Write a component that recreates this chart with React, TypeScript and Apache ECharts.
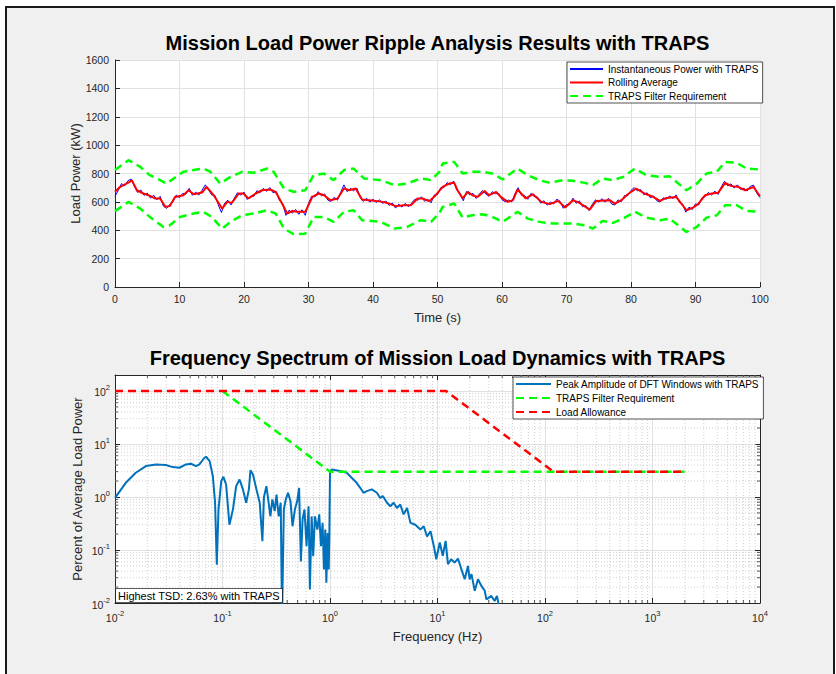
import React, { useEffect, useRef } from "react";
import * as echarts from "echarts";

const FONT = "'Liberation Sans', Arial, Helvetica, sans-serif";

const TITLE_TOP = "Mission Load Power Ripple Analysis Results with TRAPS";
const TITLE_BOTTOM = "Frequency Spectrum of Mission Load Dynamics with TRAPS";
const ANNOTATION = "Highest TSD: 2.63% with TRAPS";

// ---------- Top chart: time-domain power ----------
const timeTicks = [0, 10, 20, 30, 40, 50, 60, 70, 80, 90, 100];
const powerTicks = [0, 200, 400, 600, 800, 1000, 1200, 1400, 1600];

const sampleStep = 0.5; // s between instantaneous samples
const instPower = [
  640, 679, 729, 713, 749, 761, 709, 667, 684, 646,
  662, 626, 647, 615, 639, 570, 554, 583, 601, 648,
  629, 660, 655, 695, 646, 669, 648, 682, 720, 685,
  649, 645, 581, 525, 591, 612, 578, 626, 665, 647,
  669, 617, 640, 638, 679, 665, 696, 674, 701, 664,
  673, 609, 587, 505, 542, 520, 547, 512, 544, 505,
  590, 640, 635, 672, 643, 656, 612, 603, 633, 612,
  669, 720, 672, 696, 678, 698, 633, 603, 626, 598,
  619, 595, 615, 589, 606, 575, 592, 556, 584, 563,
  590, 565, 592, 619, 612, 636, 604, 619, 593, 649,
  652, 700, 701, 736, 720, 747, 682, 661, 608, 673,
  649, 660, 624, 656, 680, 655, 639, 672, 657, 660,
  615, 601, 613, 599, 656, 700, 648, 646, 618, 660,
  636, 635, 590, 608, 577, 598, 585, 619, 604, 555,
  581, 580, 626, 590, 607, 566, 574, 539, 582, 615,
  598, 623, 598, 625, 585, 578, 614, 602, 645, 644,
  681, 701, 677, 687, 650, 664, 629, 642, 608, 599,
  629, 618, 642, 623, 649, 596, 584, 527, 563, 546,
  586, 578, 629, 637, 667, 647, 676, 652, 706, 746,
  713, 727, 697, 720, 687, 696, 676, 709, 718, 662,
  630,
];

const avgTime = [
  0, 0.8, 2.3, 2.6, 3.4, 4.4, 5.2, 6.2, 7.0, 7.8,
  8.5, 9.3, 10.6, 11.4, 12.2, 13.5, 14.2, 15.3, 16.6, 17.4,
  18.1, 19.2, 19.9, 20.7, 21.8, 22.8, 24.1, 24.9, 25.9, 26.7,
  27.5, 28.2, 29.5, 30.6, 31.6, 32.4, 33.4, 34.5, 35.5, 36.3,
  37.3, 38.3, 39.4, 40.4, 41.5, 42.5, 43.5, 44.8, 45.9, 46.9,
  47.7, 48.7, 49.7, 50.8, 51.8, 52.6, 53.1, 53.9, 54.7, 55.4,
  56.2, 57.3, 58.0, 59.1, 59.8, 60.9, 61.7, 62.4, 63.7, 64.8,
  66.1, 67.4, 68.7, 69.8, 71.0, 72.0, 73.6, 74.6, 76.7, 77.5,
  78.5, 79.5, 80.8, 82.1, 83.2, 84.5, 85.5, 87.0, 88.6, 89.6,
  90.4, 91.5, 92.5, 93.5, 94.6, 95.6, 96.6, 97.7, 99.0, 99.7,
  100,
];
const avgPower = [
  671, 706, 741, 753, 682, 659, 647, 624, 624, 565,
  570, 635, 647, 682, 654, 666, 706, 647, 553, 600,
  593, 659, 659, 624, 659, 682, 687, 671, 588, 518,
  536, 530, 530, 635, 659, 647, 612, 624, 694, 682,
  694, 616, 612, 607, 600, 588, 570, 577, 577, 624,
  624, 605, 645, 706, 729, 734, 682, 624, 671, 647,
  635, 677, 647, 671, 635, 600, 612, 687, 624, 654,
  600, 584, 607, 560, 612, 593, 546, 607, 612, 588,
  612, 654, 694, 659, 640, 607, 628, 635, 541, 560,
  584, 647, 659, 664, 734, 711, 706, 682, 706, 659,
  640,
];

const upperTime = [
  0, 2.1, 3.9, 5.4, 7.0, 8.0, 9.1, 10.6, 12.2, 13.7,
  14.8, 16.3, 17.9, 19.7, 21.5, 23.6, 24.6, 26.2, 27.7, 29.5,
  30.8, 32.4, 33.9, 35.5, 37.0, 38.6, 41.2, 43.3, 45.3, 47.4,
  49.0, 50.3, 50.8, 52.6, 53.9, 55.4, 57.0, 58.5, 60.1, 62.4,
  64.0, 65.8, 67.4, 69.4, 71.0, 72.8, 74.1, 75.6, 77.2, 78.8,
  80.6, 82.4, 84.5, 86.0, 88.6, 90.2, 91.7, 93.3, 94.6, 96.4,
  97.9, 100,
];
const upperPower = [
  825, 894, 847, 788, 753, 729, 765, 812, 824, 835,
  812, 729, 776, 812, 805, 835, 812, 694, 671, 682,
  788, 800, 753, 824, 835, 765, 753, 718, 729, 765,
  753, 812, 871, 882, 800, 812, 812, 800, 758, 835,
  788, 753, 734, 753, 749, 734, 718, 765, 753, 776,
  835, 788, 776, 780, 682, 729, 800, 812, 882, 875,
  835, 828,
];

const lowerTime = [
  0, 2.1, 3.9, 5.4, 7.5, 8.5, 10.1, 12.2, 13.7, 15.0,
  16.6, 17.9, 19.7, 21.5, 23.6, 24.9, 26.2, 27.7, 29.5, 30.8,
  32.4, 33.9, 35.5, 37.0, 38.3, 41.2, 43.3, 45.3, 47.4, 49.0,
  50.3, 50.8, 52.6, 53.9, 55.4, 57.0, 58.5, 60.1, 62.4, 64.0,
  65.8, 67.9, 69.4, 71.0, 72.8, 74.1, 75.6, 77.2, 78.8, 80.6,
  82.4, 84.5, 86.0, 88.6, 90.2, 91.7, 93.3, 94.6, 96.4, 97.9,
  100,
];
const lowerPower = [
  535, 600, 553, 494, 423, 435, 494, 518, 530, 494,
  412, 459, 506, 518, 541, 518, 412, 372, 376, 494,
  494, 459, 530, 541, 471, 459, 412, 423, 471, 459,
  522, 565, 588, 489, 506, 513, 494, 459, 530, 482,
  459, 447, 447, 447, 435, 412, 466, 452, 482, 530,
  489, 471, 482, 388, 423, 489, 506, 576, 576, 536,
  530,
];

// ---------- Bottom chart: spectrum (Hz, % of average load) ----------
const freqDecades = [-2, -1, 0, 1, 2, 3, 4];
const ampDecades = [-2, -1, 0, 1, 2];
const AMP_MAX = 200;

const specFreq = [
  0.01, 0.0126, 0.0156, 0.0194, 0.024, 0.0297, 0.0344, 0.0398, 0.0457, 0.0509,
  0.0568, 0.061, 0.0679, 0.0703, 0.0759, 0.0813, 0.0853, 0.0885, 0.0918, 0.0973,
  0.102, 0.108, 0.116, 0.125, 0.134, 0.144, 0.155, 0.166, 0.176, 0.182,
  0.192, 0.207, 0.222, 0.235, 0.243, 0.256, 0.265, 0.279, 0.291, 0.306,
  0.318, 0.333, 0.348, 0.358, 0.372, 0.388, 0.407, 0.429, 0.448, 0.471,
  0.495, 0.516, 0.536, 0.556, 0.579, 0.605, 0.632, 0.65, 0.675, 0.698,
  0.724, 0.762, 0.794, 0.824, 0.853, 0.879, 0.904, 0.925, 0.951, 0.973,
  0.986, 1.0, 1.04, 1.24, 1.43, 1.59, 1.77, 1.91, 2.05, 2.2,
  2.45, 2.73, 2.93, 3.1, 3.39, 3.64, 3.91, 4.2, 4.51, 4.84,
  5.21, 5.6, 6.22, 6.93, 7.45, 8.0, 8.61, 9.25, 9.75, 10.5,
  11.2, 11.9, 12.5, 13.4, 14.4, 15.5, 16.7, 17.9, 19.2, 19.9,
  20.7, 22.2, 23.8, 25.6, 27.5, 28.5, 31.7, 34.0, 35.7, 37.3,
];
const specAmp = [
  0.96, 1.85, 2.86, 3.83, 4.11, 4.0, 3.66, 3.56, 4.11, 4.24,
  3.83, 4.11, 5.5, 5.74, 4.75, 2.48, 0.78, 0.053, 0.58, 1.99,
  2.4, 1.72, 0.3, 0.58, 1.6, 2.14, 1.39, 0.78, 1.39, 3.21,
  2.66, 1.39, 0.78, 0.146, 1.0, 1.6, 0.96, 0.43, 0.9, 0.54,
  1.11, 0.43, 0.78, 0.005, 0.58, 0.9, 1.2, 0.83, 0.28, 0.58,
  0.83, 1.49, 0.061, 0.376, 0.58, 0.118, 0.67, 0.018, 0.43, 0.076,
  0.43, 0.243, 0.47, 0.118, 0.325, 0.043, 0.243, 0.024, 0.21, 0.043,
  0.18, 2.86, 3.31, 3.08, 2.86, 2.3, 1.85, 1.49, 1.2, 1.29,
  1.39, 1.2, 0.96, 1.04, 0.78, 0.67, 0.78, 0.62, 0.72, 0.47,
  0.62, 0.325, 0.3, 0.243, 0.28, 0.18, 0.226, 0.118, 0.067, 0.138,
  0.078, 0.148, 0.054, 0.067, 0.058, 0.069, 0.043, 0.028, 0.05, 0.028,
  0.035, 0.017, 0.028, 0.021, 0.017, 0.0117, 0.0136, 0.0109, 0.0136, 0.0089,
];

const filterFreq = [0.1, 1, 2000];
const filterAmp = [100, 3, 3];
const allowFreq = [0.01, 12, 120, 2000];
const allowAmp = [100, 100, 3, 3];

// minor log grid positions (2..9 within each decade)
const minorMultipliers = [2, 3, 4, 5, 6, 7, 8, 9];

const AXIS_COLOR = "#262626";
const GRID_COLOR = "#e1e1e1";
const MINOR_COLOR = "#c4c4c4";

const lg = (v: number) => Math.log10(v);
const pairs = (xs: number[], ys: number[], fx = (v: number) => v, fy = (v: number) => v) =>
  xs.slice(0, Math.min(xs.length, ys.length)).map((x, i) => [fx(x), fy(ys[i])]);

export default function App() {
  const ref = useRef<HTMLDivElement>(null);

  useEffect(() => {
    if (!ref.current) return;
    const chart = echarts.init(ref.current, undefined, { renderer: "svg" });

    const instData = instPower.map((v, i) => [i * sampleStep, v]);
    const minorX: number[][] = [];
    freqDecades.slice(0, -1).forEach((d) =>
      minorMultipliers.forEach((k) => minorX.push([d + lg(k), -2]))
    );
    const minorY: number[][] = [];
    ampDecades.slice(0, -1).forEach((d) =>
      minorMultipliers.forEach((k) => minorY.push([-2, d + lg(k)]))
    );

    const supFormatter = (v: number) =>
      Math.abs(v - Math.round(v)) < 1e-6 ? `{b|10}{s|${Math.round(v)}}` : "";
    const rich = {
      b: { fontSize: 10.5, color: AXIS_COLOR, fontFamily: FONT, lineHeight: 14, verticalAlign: "bottom" },
      s: { fontSize: 7.5, color: AXIS_COLOR, fontFamily: FONT, lineHeight: 8, verticalAlign: "top" },
    };

    const baseAxisLine = { show: true, onZero: false, lineStyle: { color: AXIS_COLOR, width: 1 } };
    const baseTick = { show: true, inside: true, length: 5, lineStyle: { color: AXIS_COLOR, width: 1 } };
    const nameStyle = { fontSize: 13, color: AXIS_COLOR, fontFamily: FONT };
    const plainLabel = { color: AXIS_COLOR, fontSize: 10.5, fontFamily: FONT, margin: 6, formatter: (v: number) => String(v) };

    const minorRender = (isX: boolean) => (params: any, api: any) => {
      const cs = params.coordSys;
      const p = api.coord([api.value(0), api.value(1)]);
      const stroke = { stroke: AXIS_COLOR, lineWidth: 0.8 };
      if (isX) {
        const x = p[0];
        return {
          type: "group",
          children: [
            { type: "line", shape: { x1: x, y1: cs.y, x2: x, y2: cs.y + cs.height }, style: { stroke: MINOR_COLOR, lineWidth: 0.8, lineDash: [1, 2] } },
            { type: "line", shape: { x1: x, y1: cs.y + cs.height, x2: x, y2: cs.y + cs.height - 3 }, style: stroke },
            { type: "line", shape: { x1: x, y1: cs.y, x2: x, y2: cs.y + 3 }, style: stroke },
          ],
        };
      }
      const y = p[1];
      return {
        type: "group",
        children: [
          { type: "line", shape: { x1: cs.x, y1: y, x2: cs.x + cs.width, y2: y }, style: { stroke: MINOR_COLOR, lineWidth: 0.8, lineDash: [1, 2] } },
          { type: "line", shape: { x1: cs.x, y1: y, x2: cs.x + 3, y2: y }, style: stroke },
          { type: "line", shape: { x1: cs.x + cs.width, y1: y, x2: cs.x + cs.width - 3, y2: y }, style: stroke },
        ],
      };
    };

    const legendBase = {
      orient: "vertical",
      itemHeight: 10,
      padding: [2, 4, 2, 2],
      backgroundColor: "#fff",
      borderColor: AXIS_COLOR,
      borderWidth: 0.8,
      selectedMode: false,
      itemStyle: { opacity: 0 },
      textStyle: { fontSize: 10, color: "#000", fontFamily: FONT },
    };

    const option: any = {
      animation: false,
      textStyle: { fontFamily: FONT },
      graphic: [
        {
          type: "rect",
          z: -10,
          silent: true,
          shape: { x: 6, y: 7, width: 828, height: 700 },
          style: { fill: "#f0f0f0", stroke: "#1a1a1a", lineWidth: 2 },
        },
        {
          type: "text",
          x: 437.5,
          y: 43,
          style: { text: TITLE_TOP, fontSize: 20, fontWeight: "bold", fontFamily: FONT, fill: "#000", align: "center", verticalAlign: "middle" },
        },
        {
          type: "text",
          x: 437.5,
          y: 358,
          style: { text: TITLE_BOTTOM, fontSize: 20, fontWeight: "bold", fontFamily: FONT, fill: "#000", align: "center", verticalAlign: "middle" },
        },
        {
          type: "text",
          x: 116,
          y: 589,
          z: 100,
          style: {
            text: ANNOTATION,
            fontSize: 11,
            fontFamily: FONT,
            fill: "#000",
            backgroundColor: "#fff",
            borderColor: AXIS_COLOR,
            borderWidth: 0.8,
            padding: [1, 2, 1, 2],
            align: "left",
            verticalAlign: "top",
          },
        },
      ],
      legend: [
        {
          ...legendBase,
          left: 567,
          top: 62,
          data: ["Instantaneous Power with TRAPS", "Rolling Average", "TRAPS Filter Requirement"],
          itemWidth: 33,
          itemGap: 3.5,
        },
        {
          ...legendBase,
          left: 513,
          top: 377,
          data: ["Peak Amplitude of DFT Windows with TRAPS", "TRAPS Filter Requirement", "Load Allowance"],
          itemWidth: 35,
          itemGap: 4,
        },
      ],
      grid: [
        { left: 115, top: 60, width: 645, height: 227, show: true, backgroundColor: "#fff", borderWidth: 0 },
        { left: 115, top: 375, width: 645, height: 228, show: true, backgroundColor: "#fff", borderWidth: 0 },
      ],
      xAxis: [
        {
          type: "value",
          gridIndex: 0,
          min: timeTicks[0],
          max: timeTicks[timeTicks.length - 1],
          interval: timeTicks[1] - timeTicks[0],
          axisLine: baseAxisLine,
          axisTick: baseTick,
          axisLabel: plainLabel,
          splitLine: { show: true, lineStyle: { color: GRID_COLOR, width: 1 } },
          name: "Time (s)",
          nameLocation: "middle",
          nameGap: 24,
          nameMoveOverlap: false,
          nameTextStyle: nameStyle,
        },
        {
          type: "value",
          gridIndex: 1,
          min: freqDecades[0],
          max: freqDecades[freqDecades.length - 1],
          interval: 1,
          axisLine: baseAxisLine,
          axisTick: baseTick,
          axisLabel: { formatter: supFormatter, rich, margin: 6 },
          splitLine: { show: true, lineStyle: { color: GRID_COLOR, width: 1 } },
          name: "Frequency (Hz)",
          nameLocation: "middle",
          nameGap: 27,
          nameMoveOverlap: false,
          nameTextStyle: nameStyle,
        },
        {
          type: "value",
          gridIndex: 1,
          position: "top",
          min: freqDecades[0],
          max: freqDecades[freqDecades.length - 1],
          interval: 1,
          axisLine: baseAxisLine,
          axisTick: baseTick,
          axisLabel: { show: false },
          splitLine: { show: false },
        },
      ],
      yAxis: [
        {
          type: "value",
          gridIndex: 0,
          min: powerTicks[0],
          max: powerTicks[powerTicks.length - 1],
          interval: powerTicks[1] - powerTicks[0],
          axisLine: baseAxisLine,
          axisTick: baseTick,
          axisLabel: plainLabel,
          splitLine: { show: true, lineStyle: { color: GRID_COLOR, width: 1 } },
          name: "Load Power (kW)",
          nameLocation: "middle",
          nameGap: 33,
          nameMoveOverlap: false,
          nameTextStyle: nameStyle,
        },
        {
          type: "value",
          gridIndex: 1,
          min: ampDecades[0],
          max: lg(AMP_MAX),
          interval: 1,
          axisLine: baseAxisLine,
          axisTick: baseTick,
          axisLabel: { formatter: supFormatter, rich, margin: 5 },
          splitLine: { show: true, lineStyle: { color: GRID_COLOR, width: 1 } },
          name: "Percent of Average Load Power",
          nameLocation: "middle",
          nameGap: 31,
          nameMoveOverlap: false,
          nameTextStyle: nameStyle,
        },
        {
          type: "value",
          gridIndex: 1,
          position: "right",
          min: ampDecades[0],
          max: lg(AMP_MAX),
          interval: 1,
          axisLine: baseAxisLine,
          axisTick: baseTick,
          axisLabel: { show: false },
          splitLine: { show: false },
        },
      ],
      series: [
        {
          name: "Instantaneous Power with TRAPS",
          type: "line",
          xAxisIndex: 0,
          yAxisIndex: 0,
          data: instData,
          symbol: "none",
          lineStyle: { color: "#0000ff", width: 1 },
          itemStyle: { color: "#0000ff" },
          z: 3,
        },
        {
          name: "Rolling Average",
          type: "line",
          xAxisIndex: 0,
          yAxisIndex: 0,
          data: pairs(avgTime, avgPower),
          symbol: "none",
          lineStyle: { color: "#ff0000", width: 2 },
          itemStyle: { color: "#ff0000" },
          z: 4,
        },
        {
          name: "TRAPS Filter Requirement",
          type: "line",
          xAxisIndex: 0,
          yAxisIndex: 0,
          data: pairs(upperTime, upperPower),
          symbol: "none",
          lineStyle: { color: "#00ff00", width: 2.5, type: [8, 5] },
          itemStyle: { color: "#00ff00" },
          z: 5,
        },
        {
          name: "TRAPS Filter Requirement (lower)",
          type: "line",
          xAxisIndex: 0,
          yAxisIndex: 0,
          data: pairs(lowerTime, lowerPower),
          symbol: "none",
          lineStyle: { color: "#00ff00", width: 2.5, type: [8, 5] },
          itemStyle: { color: "#00ff00" },
          z: 5,
        },
        {
          name: "Peak Amplitude of DFT Windows with TRAPS",
          type: "line",
          xAxisIndex: 1,
          yAxisIndex: 1,
          data: pairs(specFreq, specAmp, lg, lg),
          symbol: "none",
          clip: true,
          lineStyle: { color: "#0072bd", width: 2 },
          itemStyle: { color: "#0072bd" },
          z: 3,
        },
        {
          name: "TRAPS Filter Requirement",
          type: "line",
          xAxisIndex: 1,
          yAxisIndex: 1,
          data: pairs(filterFreq, filterAmp, lg, lg),
          symbol: "none",
          lineStyle: { color: "#00ff00", width: 2.5, type: [8, 5] },
          itemStyle: { color: "#00ff00" },
          z: 4,
        },
        {
          name: "Load Allowance",
          type: "line",
          xAxisIndex: 1,
          yAxisIndex: 1,
          data: pairs(allowFreq, allowAmp, lg, lg),
          symbol: "none",
          lineStyle: { color: "#ff0000", width: 2.5, type: [8, 5] },
          itemStyle: { color: "#ff0000" },
          z: 5,
        },
        {
          name: "minorX",
          type: "custom",
          xAxisIndex: 1,
          yAxisIndex: 1,
          data: minorX,
          renderItem: minorRender(true),
          silent: true,
          z: 1,
        },
        {
          name: "minorY",
          type: "custom",
          xAxisIndex: 1,
          yAxisIndex: 1,
          data: minorY,
          renderItem: minorRender(false),
          silent: true,
          z: 1,
        },
      ],
    };

    chart.setOption(option);
    return () => chart.dispose();
  }, []);

  return (
    <div
      ref={ref}
      style={{ position: "fixed", left: 0, top: 0, width: 836, height: 674, background: "#fff" }}
    />
  );
}
